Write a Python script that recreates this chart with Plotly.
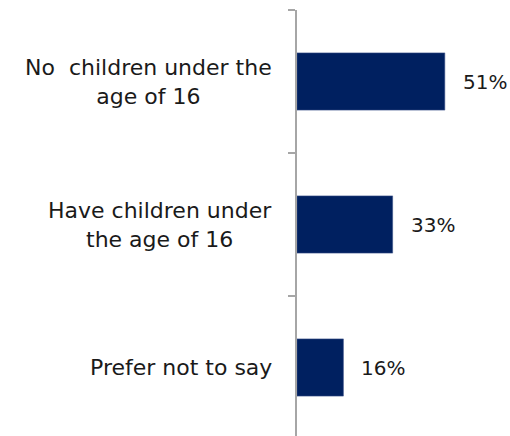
import plotly.graph_objects as go

categories = ["No  children under the<br>age of 16", "Have children under<br>the age of 16", "Prefer not to say"]
values = [51, 33, 16]
value_labels = ["51%", "33%", "16%"]

FONT = "DejaVu Sans"
fig = go.Figure()
fig.add_trace(go.Bar(
    x=values, y=categories, orientation="h",
    marker=dict(color="#002060", line=dict(color="#3a5088", width=0.6)),
    width=0.4, hoverinfo="skip",
))

for c, v, t in zip(categories, values, value_labels):
    fig.add_annotation(x=v, y=c, text=t, showarrow=False, xanchor="left", yanchor="middle",
                       xshift=16, font=dict(family=FONT, size=20, color="#1a1a1a"))
    fig.add_annotation(x=0, y=c, text=c, showarrow=False, xanchor="right", yanchor="middle",
                       xshift=-23, align="center", font=dict(family=FONT, size=22, color="#1a1a1a"))

fig.update_layout(
    width=510, height=436,
    margin=dict(l=297, r=0, t=10, b=0),
    plot_bgcolor="white", paper_bgcolor="white",
    showlegend=False,
    bargap=0.6,
)
fig.update_xaxes(range=[0, 73.5], visible=False, showgrid=False, zeroline=False)
fig.update_yaxes(
    type="category", categoryorder="array", categoryarray=categories,
    range=[2.479, -0.5], tickson="boundaries", ticks="outside", ticklen=7,
    tickcolor="#a6a6a6", tickwidth=2, showline=True, linecolor="#a6a6a6", linewidth=2,
    showticklabels=False, showgrid=False, zeroline=False,
)
fig.write_html("out.html", config={"displayModeBar": False, "staticPlot": True},
               post_script="document.body.style.margin='0';document.body.style.overflow='hidden';")
